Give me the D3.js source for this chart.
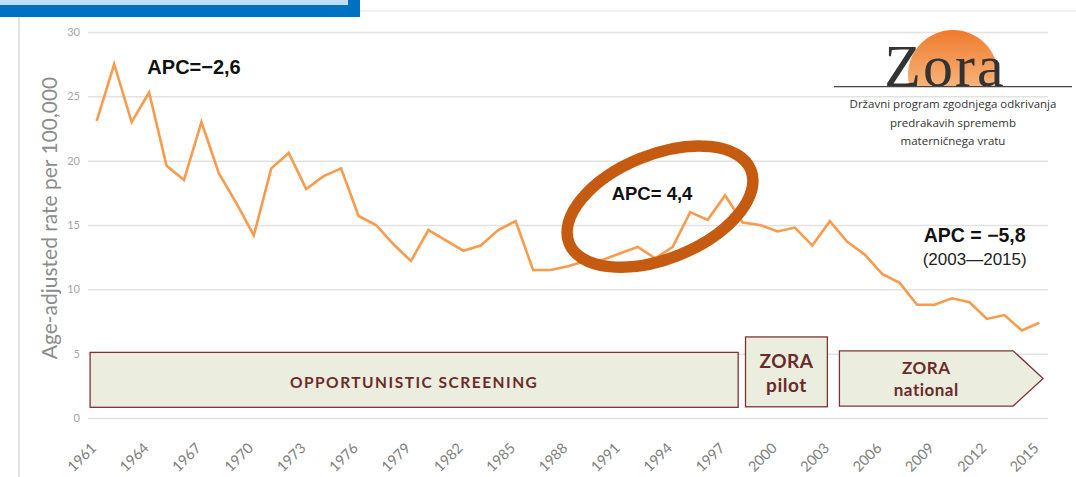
<!DOCTYPE html>
<html>
<head>
<meta charset="utf-8">
<script src="https://cdn.jsdelivr.net/npm/d3@7"></script>
<style>
    body { margin: 0; background: #fff; }
    svg { display: block; }
</style>
</head>
<body>
<svg id="grafico" width="1076" height="477"></svg>
<script>
// dados
const anos = [1961, 1962, 1963, 1964, 1965, 1966, 1967, 1968, 1969, 1970,
    1971, 1972, 1973, 1974, 1975, 1976, 1977, 1978, 1979, 1980,
    1981, 1982, 1983, 1984, 1985, 1986, 1987, 1988, 1989, 1990,
    1991, 1992, 1993, 1994, 1995, 1996, 1997, 1998, 1999, 2000,
    2001, 2002, 2003, 2004, 2005, 2006, 2007, 2008, 2009, 2010,
    2011, 2012, 2013, 2014, 2015]
const taxas = [23.1, 27.5, 23.0, 25.3, 19.6, 18.5, 23.0, 19.0, 16.7, 14.2,
    19.4, 20.6, 17.8, 18.8, 19.4, 15.7, 15.0, 13.5, 12.2, 14.6,
    13.8, 13.0, 13.4, 14.6, 15.3, 11.5, 11.5, 11.8, 12.2, 12.3,
    12.8, 13.3, 12.4, 13.3, 16.0, 15.4, 17.3, 15.2, 15.0, 14.5,
    14.8, 13.4, 15.3, 13.7, 12.7, 11.2, 10.5, 8.8, 8.8, 9.3,
    9.0, 7.7, 8.0, 6.8, 7.4]
const anosLabel = [1961, 1964, 1967, 1970, 1973, 1976, 1979, 1982, 1985, 1988,
    1991, 1994, 1997, 2000, 2003, 2006, 2009, 2012, 2015]
const yTicks = [0, 5, 10, 15, 20, 25, 30]
const periodos = [
    { linhas: ['OPPORTUNISTIC SCREENING'], inicio: 1961, fim: 1997 },
    { linhas: ['ZORA', 'pilot'], inicio: 1998, fim: 2002 },
    { linhas: ['ZORA', 'national'], inicio: 2003, fim: 2015 }
]
const apcTextos = ['APC=\u22122,6', 'APC= 4,4', 'APC = \u22125,8', '(2003\u20142015)']
const logoTextos = ['Državni program zgodnjega odkrivanja', 'predrakavih sprememb', 'materničnega vratu']

function desenhar_grafico(div) {
    const svg = d3.select(div)

    const width = 960
    const margin = { left: 88, top: 32 }

    const xScale = d3.scalePoint()
        .domain(anos)
        .range([margin.left, margin.left + width])
        .padding(0.5)
    // posicao de anos fracionados (para as caixas)
    const xAno = (a) => xScale(anos[0]) + (a - anos[0]) * xScale.step()

    const yScale = d3.scaleLinear()
        .domain([0, 30])
        .range([418, margin.top])

    /*moldura azul e linhas da pagina*/
    svg.append('rect').attr('x', 0).attr('y', 0).attr('width', 360).attr('height', 17).attr('fill', '#0070c0')
    svg.append('rect').attr('x', 0).attr('y', 0).attr('width', 348).attr('height', 5).attr('fill', '#bde0f8')
    svg.append('line').attr('x1', 360).attr('x2', 1076).attr('y1', 11).attr('y2', 11)
        .attr('stroke', '#e3e3e3').attr('stroke-width', 1)
    svg.append('line').attr('x1', 19).attr('x2', 19).attr('y1', 17).attr('y2', 477)
        .attr('stroke', '#d9d9d9').attr('stroke-width', 1.5)

    /*grid y*/
    const gy = svg.append('g')
        .attr('transform', `translate(${margin.left}, 0)`)
        .call(d3.axisLeft(yScale)
            .tickValues(yTicks)
            .tickSize(-width)
            .tickPadding(8))
    gy.select('.domain').remove()
    gy.selectAll('line').attr('stroke', '#e2e2e2').attr('stroke-width', 1.5)
    gy.selectAll('text')
        .attr('fill', '#a6a6a6')
        .style('font-family', 'Lato, sans-serif')
        .style('font-size', '11px')

    /*eixo x*/
    const gx = svg.append('g')
        .attr('transform', `translate(0, 418)`)
        .call(d3.axisBottom(xScale)
            .tickValues(anosLabel)
            .tickSize(0))
    gx.select('.domain').remove()
    gx.selectAll('text')
        .attr('y', 0)
        .attr('dy', 0)
        .attr('text-anchor', 'end')
        .attr('transform', 'translate(0, 31) rotate(-45)')
        .attr('fill', '#7f7f7f')
        .style('font-family', 'Lato, sans-serif')
        .style('font-size', '14.5px')

    /*titulo eixo y*/
    svg.append('text')
        .attr('transform', 'translate(57, 218) rotate(-90)')
        .attr('text-anchor', 'middle')
        .attr('fill', '#8c8c8c')
        .style('font-family', 'Lato, sans-serif')
        .style('font-size', '21px')
        .text('Age-adjusted rate per 100,000')

    /*caixas dos periodos*/
    const caixas = svg.append('g')
    const p0 = periodos[0], p1 = periodos[1], p2 = periodos[2]
    const fundo = '#ebeedf', borda = '#7b3535', corTxt = '#6b2a2a'

    caixas.append('rect')
        .attr('x', xAno(p0.inicio - 0.38)).attr('y', yScale(5.1))
        .attr('width', xAno(p0.fim + 0.75) - xAno(p0.inicio - 0.38))
        .attr('height', yScale(0.83) - yScale(5.1))
        .attr('fill', fundo).attr('stroke', borda).attr('stroke-width', 1.3)
    caixas.append('rect')
        .attr('x', xAno(p1.inicio + 0.17)).attr('y', yScale(6.3))
        .attr('width', xAno(p1.fim + 0.86) - xAno(p1.inicio + 0.17))
        .attr('height', yScale(0.87) - yScale(6.3))
        .attr('fill', fundo).attr('stroke', borda).attr('stroke-width', 1.3)
    const nx0 = xAno(p2.inicio + 0.55), nx1 = xAno(p2.fim + 0.22), nxs = nx1 - 30
    const ny0 = yScale(5.22), ny1 = yScale(0.93)
    caixas.append('path')
        .attr('d', `M${nx0},${ny0} L${nxs},${ny0} L${nx1},${(ny0 + ny1) / 2} L${nxs},${ny1} L${nx0},${ny1} Z`)
        .attr('fill', fundo).attr('stroke', borda).attr('stroke-width', 1.3)

    caixas.append('text')
        .attr('x', (xAno(p0.inicio - 0.38) + xAno(p0.fim + 0.75)) / 2)
        .attr('y', 388)
        .attr('text-anchor', 'middle')
        .attr('fill', corTxt)
        .style('font-family', 'Lato, sans-serif')
        .style('font-weight', 'bold')
        .style('font-size', '15.5px')
        .style('letter-spacing', '1.5px')
        .text(p0.linhas[0])

    p1.linhas.forEach((l, i) => {
        caixas.append('text')
            .attr('x', (xAno(p1.inicio + 0.17) + xAno(p1.fim + 0.86)) / 2)
            .attr('y', 368 + i * 24)
            .attr('text-anchor', 'middle')
            .attr('fill', corTxt)
            .style('font-family', 'Lato, sans-serif')
            .style('font-weight', 'bold')
            .style('font-size', '19px')
            .style('letter-spacing', '0.5px')
            .text(l)
    })
    p2.linhas.forEach((l, i) => {
        caixas.append('text')
            .attr('x', (nx0 + nxs) / 2)
            .attr('y', 374 + i * 22)
            .attr('text-anchor', 'middle')
            .attr('fill', corTxt)
            .style('font-family', 'Lato, sans-serif')
            .style('font-weight', 'bold')
            .style('font-size', '17px')
            .style('letter-spacing', '0.5px')
            .text(l)
    })

    /*linha*/
    const linha = d3.line()
        .x((d, i) => xScale(anos[i]))
        .y((d) => yScale(d))

    svg.append('path')
        .datum(taxas)
        .attr('d', linha)
        .attr('fill', 'none')
        .attr('stroke', '#f79b4d')
        .attr('stroke-width', 2.6)
        .attr('stroke-linejoin', 'miter')

    /*elipse*/
    svg.append('ellipse')
        .attr('cx', 0).attr('cy', 0).attr('rx', 98).attr('ry', 52)
        .attr('transform', `translate(${xAno(1993.27)}, ${yScale(16.43)}) rotate(-22)`)
        .attr('fill', 'none')
        .attr('stroke', '#c55a11')
        .attr('stroke-width', 11.5)

    /*textos APC*/
    const apc = svg.append('g')
        .attr('fill', '#111')
        .style('font-family', '"Liberation Sans", Arial, sans-serif')
    apc.append('text')
        .attr('x', xAno(1963.9)).attr('y', yScale(26.75))
        .style('font-weight', 'bold').style('font-size', '20px')
        .text(apcTextos[0])
    apc.append('text')
        .attr('x', xAno(1990.5)).attr('y', yScale(16.95))
        .style('font-weight', 'bold').style('font-size', '18.5px')
        .text(apcTextos[1])
    apc.append('text')
        .attr('x', xAno(2011.3)).attr('y', yScale(13.65))
        .attr('text-anchor', 'middle')
        .style('font-weight', 'bold').style('font-size', '19.5px')
        .text(apcTextos[2])
    apc.append('text')
        .attr('x', xAno(2011.3)).attr('y', yScale(11.9))
        .attr('text-anchor', 'middle')
        .attr('fill', '#222')
        .style('font-size', '17px')
        .text(apcTextos[3])

    /*logo Zora*/
    const defs = svg.append('defs')
    const grad = defs.append('linearGradient')
        .attr('id', 'sol').attr('x1', 0).attr('y1', 0).attr('x2', 0).attr('y2', 1)
    grad.append('stop').attr('offset', '0%').attr('stop-color', '#ef7a2c')
    grad.append('stop').attr('offset', '100%').attr('stop-color', '#fbd6aa')
    defs.append('clipPath').attr('id', 'corte')
        .append('rect').attr('x', 880).attr('y', 20).attr('width', 150).attr('height', 66.5)

    const logo = svg.append('g')
    logo.append('circle')
        .attr('cx', 953).attr('cy', 75).attr('r', 45)
        .attr('fill', 'url(#sol)')
        .attr('clip-path', 'url(#corte)')
    logo.append('text')
        .attr('x', 945).attr('y', 85.5)
        .attr('text-anchor', 'middle')
        .attr('fill', '#333')
        .style('font-family', '"Liberation Serif", "DejaVu Serif", serif')
        .style('font-size', '60px')
        .style('letter-spacing', '2px')
        .text('Zora')
    logo.append('line')
        .attr('x1', 834).attr('x2', 1072).attr('y1', 86.7).attr('y2', 86.7)
        .attr('stroke', '#444').attr('stroke-width', 1.3)
    logoTextos.forEach((t, i) => {
        logo.append('text')
            .attr('x', 953).attr('y', 108 + i * 18.5)
            .attr('text-anchor', 'middle')
            .attr('fill', '#333')
            .style('font-family', '"Open Sans", sans-serif')
            .style('font-size', '11.5px')
            .text(t)
    })
}

desenhar_grafico('#grafico')
</script>
</body>
</html>
